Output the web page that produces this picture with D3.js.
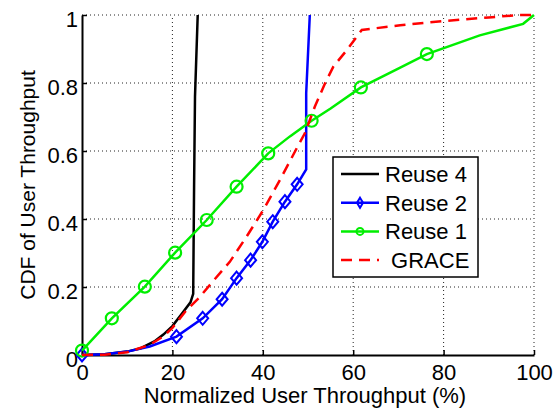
<!DOCTYPE html>
<html>
<head>
<meta charset="utf-8">
<script src="https://cdn.jsdelivr.net/npm/d3@7"></script>
<style>
  body { margin: 0; background: #fff; }
  text { font-family: "Liberation Sans", Arial, sans-serif; fill: #000; }
</style>
</head>
<body>
<script>
// data (x = throughput %, y = CDF)
var reuse4 = [[0,0],[5,0.002],[10,0.01],[13,0.02],[16,0.04],[18,0.06],[20,0.085],[22,0.12],[24,0.155],[24.6,0.18],[24.8,0.5],[25,0.76],[25.6,1]];
var reuse2 = [[0,0],[5,0.002],[10,0.01],[15,0.025],[20.9,0.054],[26.7,0.108],[31,0.164],[34.2,0.226],[37.3,0.279],[39.9,0.333],[42.2,0.392],[44.9,0.451],[47.6,0.502],[49.6,0.546],[49.6,0.77],[50.4,1]];
var reuse2Marks = [[0,0],[20.9,0.054],[26.7,0.108],[31,0.164],[34.2,0.226],[37.3,0.279],[39.9,0.333],[42.2,0.392],[44.9,0.451],[47.6,0.502]];
var reuse1 = [[0,0.013],[6.6,0.108],[13.9,0.201],[20.6,0.301],[27.6,0.397],[34.2,0.495],[41.2,0.593],[46,0.643],[50.8,0.689],[55,0.725],[61.7,0.787],[70.4,0.845],[76.3,0.885],[88,0.94],[97.6,0.974],[100,1]];
var reuse1Marks = [[0,0.013],[6.6,0.108],[13.9,0.201],[20.6,0.301],[27.6,0.397],[34.2,0.495],[41.2,0.593],[50.8,0.689],[61.7,0.787],[76.3,0.885]];
var grace = [[0,0],[5,0.001],[10,0.008],[15,0.03],[18,0.055],[20,0.08],[23,0.13],[26,0.17],[29.5,0.225],[32.7,0.274],[36.5,0.35],[40.1,0.426],[44,0.52],[47.9,0.618],[49.3,0.652],[51.5,0.73],[53.8,0.8],[55.6,0.848],[58.6,0.897],[61.9,0.956],[70.4,0.97],[80.7,0.983],[90,0.993],[96.9,1],[100,1]];

var xTicks = [0,20,40,60,80,100];
var yTicks = [0,0.2,0.4,0.6,0.8,1];
var legendNames = ["Reuse 4","Reuse 2","Reuse 1"," GRACE"];

var width = 559, height = 412;
var margin = {left: 82, right: 25, top: 15, bottom: 57};

var svg = d3.select("body").append("svg")
    .attr("width", width)
    .attr("height", height);

var x = d3.scaleLinear().domain([0,100]).range([margin.left, width - margin.right]);
var y = d3.scaleLinear().domain([0,1]).range([height - margin.bottom, margin.top]);

//dotted grid
svg.append("g").selectAll("line")
    .data(xTicks.slice(1))
    .enter().append("line")
    .attr("x1", d => x(d)).attr("x2", d => x(d))
    .attr("y1", y(0)).attr("y2", y(1))
    .attr("stroke", "#222").attr("stroke-width", 1)
    .attr("stroke-dasharray", "1,3");
svg.append("g").selectAll("line")
    .data(yTicks.slice(1))
    .enter().append("line")
    .attr("x1", x(0)).attr("x2", x(100))
    .attr("y1", d => y(d)).attr("y2", d => y(d))
    .attr("stroke", "#222").attr("stroke-width", 1)
    .attr("stroke-dasharray", "1,3");

//axes with inward ticks
var xAxis = svg.append("g")
    .attr("transform", "translate(0," + y(0) + ")")
    .call(d3.axisBottom(x).tickValues(xTicks).tickSizeInner(-5).tickSizeOuter(0).tickPadding(10));
var yAxis = svg.append("g")
    .attr("transform", "translate(" + x(0) + ",0)")
    .call(d3.axisLeft(y).tickValues(yTicks).tickSizeInner(-5).tickSizeOuter(0).tickPadding(4)
        .tickFormat(d => String(+d.toFixed(1))));
[xAxis, yAxis].forEach(function(g){
    g.select(".domain").attr("stroke", "#000").attr("stroke-width", 2);
    g.selectAll(".tick line").attr("stroke", "#000").attr("stroke-width", 1.5);
    g.selectAll(".tick text").style("font-size", "22px").style("font-family", "Liberation Sans, Arial, sans-serif").attr("fill", "#000");
});
yAxis.selectAll(".tick text").attr("dy", "0.5em");
xAxis.selectAll(".tick text").attr("dy", "0.68em");

//axis titles
svg.append("text")
    .attr("x", (x(0) + x(100)) / 2 - 3)
    .attr("y", 403)
    .attr("text-anchor", "middle")
    .style("font-size", "22px")
    .text("Normalized User Throughput (%)");
svg.append("text")
    .attr("transform", "translate(35," + ((y(0) + y(1)) / 2) + ") rotate(-90)")
    .attr("text-anchor", "middle")
    .style("font-size", "21px")
    .text("CDF of User Throughput");

var line = d3.line().x(d => x(d[0])).y(d => y(d[1]));

var series = [
    {data: reuse4, color: "#000", width: 2.5, dash: null},
    {data: reuse2, color: "#0000ff", width: 2.5, dash: null},
    {data: reuse1, color: "#00ee00", width: 2.5, dash: null},
    {data: grace, color: "#ff0000", width: 2.5, dash: "11,7"}
];

function diamond(g, px, py, w, h, color) {
    g.append("path")
        .attr("d", "M" + px + "," + (py - h) + "L" + (px + w) + "," + py + "L" + px + "," + (py + h) + "L" + (px - w) + "," + py + "Z")
        .attr("fill", "none").attr("stroke", color).attr("stroke-width", 2);
}

var plot = svg.append("g");
series.forEach(function(s, i){
    plot.append("path")
        .datum(s.data)
        .attr("d", line)
        .attr("fill", "none")
        .attr("stroke", s.color)
        .attr("stroke-width", s.width)
        .attr("stroke-dasharray", s.dash);
    if (i == 1) {
        reuse2Marks.forEach(d => diamond(plot, x(d[0]), y(d[1]), 5.5, 6.5, s.color));
    }
    if (i == 2) {
        plot.selectAll(".c1")
            .data(reuse1Marks)
            .enter().append("circle")
            .attr("cx", d => x(d[0])).attr("cy", d => y(d[1]))
            .attr("r", 6)
            .attr("fill", "none").attr("stroke", s.color).attr("stroke-width", 2.2);
    }
});

//legend
var legend = svg.append("g");
legend.append("rect")
    .attr("x", 333).attr("y", 157)
    .attr("width", 145).attr("height", 120)
    .attr("fill", "#fff").attr("stroke", "#000").attr("stroke-width", 1.5);
series.forEach(function(s, i){
    var ly = 174 + i * 28.7;
    legend.append("line")
        .attr("x1", 341).attr("x2", 379)
        .attr("y1", ly).attr("y2", ly)
        .attr("stroke", s.color).attr("stroke-width", s.width)
        .attr("stroke-dasharray", s.dash);
    if (i == 1) diamond(legend, 360, ly, 3, 5, s.color);
    if (i == 2) legend.append("circle").attr("cx", 360).attr("cy", ly).attr("r", 3.5)
        .attr("fill", "none").attr("stroke", s.color).attr("stroke-width", 2);
    legend.append("text")
        .attr("x", 385).attr("y", ly + 8)
        .style("font-size", "22px")
        .style("white-space", "pre")
        .text(legendNames[i]);
});
</script>
</body>
</html>
